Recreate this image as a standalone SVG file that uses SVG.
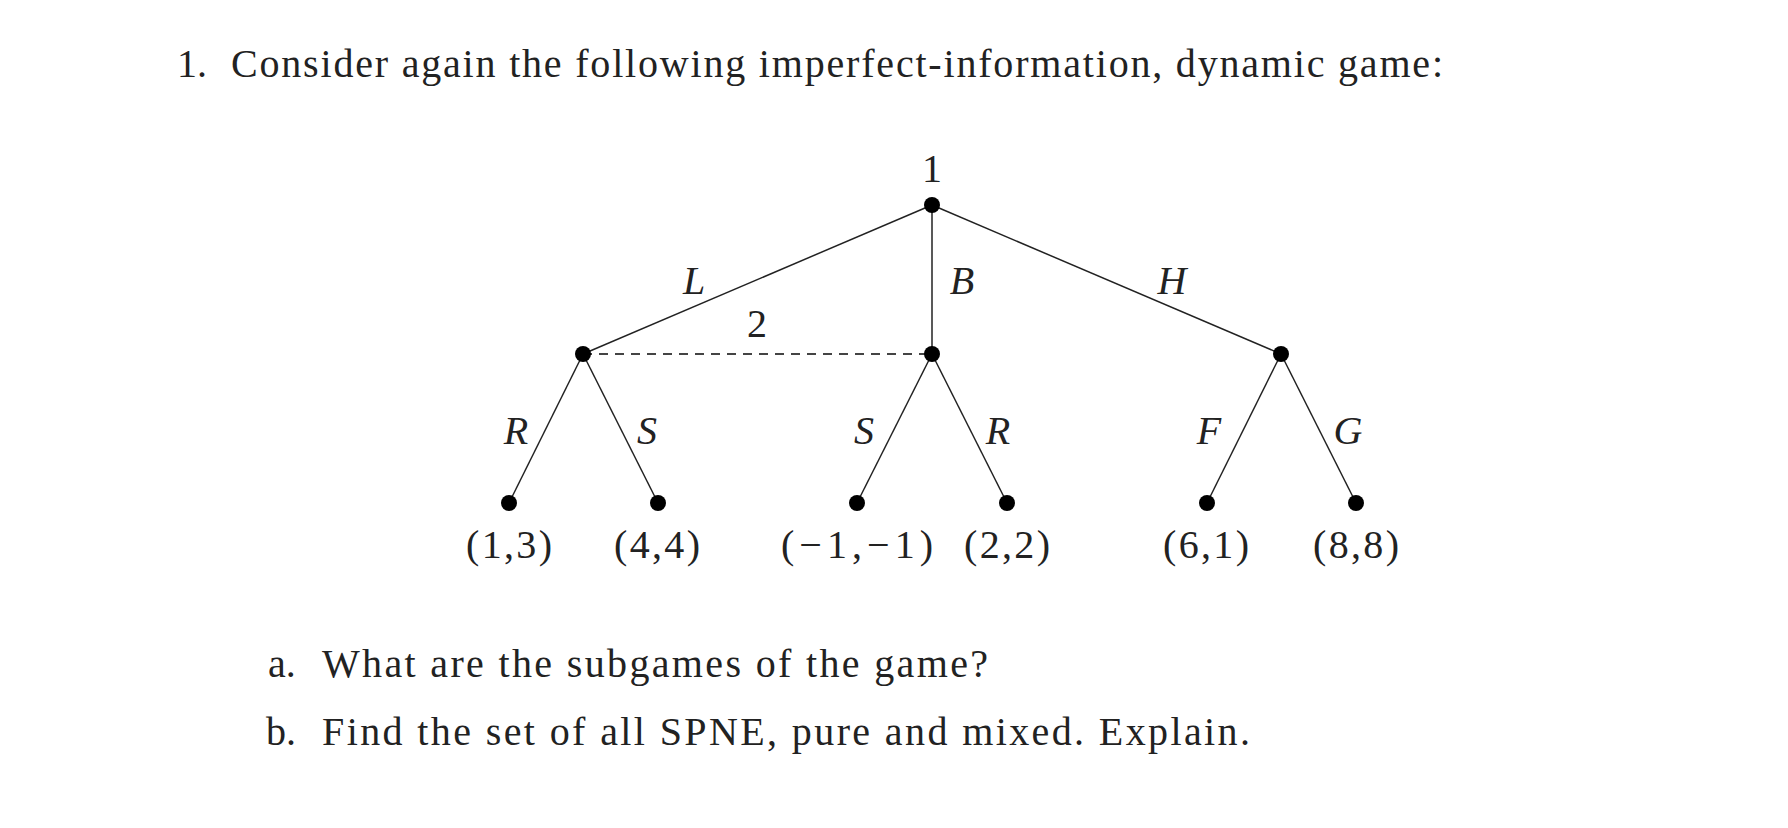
<svg xmlns="http://www.w3.org/2000/svg" width="1788" height="828" viewBox="0 0 1788 828">
<style>
text{font-family:"Liberation Serif","DejaVu Serif",serif;font-size:40px;fill:#222}
.m{text-anchor:middle}
.i{font-style:italic}
.e{stroke:#222;stroke-width:1.5;fill:none}
.d{stroke:#444;stroke-width:1.8;stroke-dasharray:9 7}
circle{fill:#000}
</style>
<rect width="1788" height="828" fill="#fff"/>
<text x="177" y="77">1.</text>
<text x="231" y="77" textLength="1212" lengthAdjust="spacing">Consider again the following imperfect-information, dynamic game:</text>
<g id="edges">
<line class="e" x1="932" y1="205" x2="583" y2="354"/>
<line class="e" x1="932" y1="205" x2="932" y2="354"/>
<line class="e" x1="932" y1="205" x2="1281" y2="354"/>
<line class="e" x1="583" y1="354" x2="509" y2="503"/>
<line class="e" x1="583" y1="354" x2="658" y2="503"/>
<line class="e" x1="932" y1="354" x2="857" y2="503"/>
<line class="e" x1="932" y1="354" x2="1007" y2="503"/>
<line class="e" x1="1281" y1="354" x2="1207" y2="503"/>
<line class="e" x1="1281" y1="354" x2="1356" y2="503"/>
<line class="d" x1="583" y1="354" x2="932" y2="354"/>
<text class="m i" x="694" y="294">L</text>
<text class="m i" x="962" y="294">B</text>
<text class="m i" x="1172" y="294">H</text>
<text class="m" x="757" y="337">2</text>
<text class="m i" x="516" y="444">R</text>
<text class="m i" x="647" y="444">S</text>
<text class="m i" x="864" y="444">S</text>
<text class="m i" x="998" y="444">R</text>
<text class="m i" x="1209" y="444">F</text>
<text class="m i" x="1348" y="444">G</text>
</g>
<g id="root"><circle cx="932" cy="205" r="8"/><text class="m" x="932" y="182">1</text></g>
<g id="n2a"><circle cx="583" cy="354" r="8"/></g>
<g id="n2b"><circle cx="932" cy="354" r="8"/></g>
<g id="n3"><circle cx="1281" cy="354" r="8"/></g>
<g id="t1"><circle cx="509" cy="503" r="8"/><text class="m" x="509" y="558" textLength="86" lengthAdjust="spacing">(1,3)</text></g>
<g id="t2"><circle cx="658" cy="503" r="8"/><text class="m" x="657" y="558" textLength="86" lengthAdjust="spacing">(4,4)</text></g>
<g id="t3"><circle cx="857" cy="503" r="8"/><text class="m" x="857" y="558" textLength="152" lengthAdjust="spacing">(−1,−1)</text></g>
<g id="t4"><circle cx="1007" cy="503" r="8"/><text class="m" x="1007" y="558" textLength="86" lengthAdjust="spacing">(2,2)</text></g>
<g id="t5"><circle cx="1207" cy="503" r="8"/><text class="m" x="1206" y="558" textLength="86" lengthAdjust="spacing">(6,1)</text></g>
<g id="t6"><circle cx="1356" cy="503" r="8"/><text class="m" x="1356" y="558" textLength="86" lengthAdjust="spacing">(8,8)</text></g>
<text x="268" y="677">a.</text>
<text x="322" y="677" textLength="666" lengthAdjust="spacing">What are the subgames of the game?</text>
<text x="266" y="745">b.</text>
<text x="322" y="745" textLength="928" lengthAdjust="spacing">Find the set of all SPNE, pure and mixed. Explain.</text>
</svg>
